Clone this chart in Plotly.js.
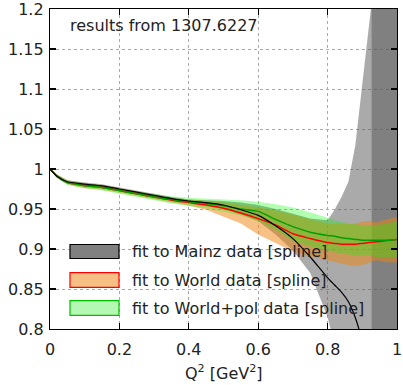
<!DOCTYPE html>
<html>
<head>
<meta charset="utf-8">
<script src="https://cdn.plot.ly/plotly-3.0.1.min.js"></script>
<style>html,body{margin:0;padding:0;background:#fff;}#chart{width:403px;height:385px;}</style>
</head>
<body>
<div id="chart"></div>
<script>
// Q^2 grid [GeV^2]
var q = [0, 0.02, 0.05, 0.075, 0.1, 0.15, 0.2, 0.25, 0.3, 0.35, 0.4, 0.45, 0.5, 0.55, 0.6, 0.65, 0.7, 0.75, 0.8, 0.82, 0.84, 0.86, 0.88, 0.9, 0.92, 0.94, 0.96, 0.98, 1.0];

// fit to Mainz data [spline]
var mainzCentral = [1.0, 0.991, 0.984, 0.9825, 0.981, 0.979, 0.975, 0.971, 0.967, 0.963, 0.960, 0.958, 0.955, 0.949, 0.942, 0.929, 0.913, 0.890, 0.864, 0.855, 0.846, 0.834, 0.814, 0.785, 0.750, 0.710, 0.670, 0.630, 0.590];
var mainzHi = [1.001, 0.993, 0.986, 0.9845, 0.983, 0.981, 0.977, 0.973, 0.969, 0.965, 0.962, 0.961, 0.960, 0.958, 0.955, 0.950, 0.944, 0.938, 0.936, 0.949, 0.965, 0.984, 1.030, 1.099, 1.172, 1.250, 1.330, 1.410, 1.490];
var mainzLo = [0.999, 0.989, 0.982, 0.9805, 0.979, 0.977, 0.973, 0.969, 0.965, 0.961, 0.958, 0.955, 0.950, 0.943, 0.935, 0.918, 0.898, 0.870, 0.815, 0.780, 0.730, 0.680, 0.630, 0.580, 0.530, 0.480, 0.430, 0.380, 0.330];
// region where the Mainz band overflows the frame on both sides
var overflowQ = [0.927, 0.94, 0.96, 0.98, 1.0];
var overflowHi = [1.3, 1.3, 1.3, 1.3, 1.3];
var overflowLo = [0.7, 0.7, 0.7, 0.7, 0.7];

// fit to World data [spline]
var worldCentral = [1.0, 0.991, 0.983, 0.981, 0.979, 0.977, 0.973, 0.969, 0.965, 0.961, 0.958, 0.955, 0.951, 0.945, 0.938, 0.930, 0.919, 0.913, 0.908, 0.907, 0.906, 0.906, 0.906, 0.907, 0.908, 0.909, 0.910, 0.911, 0.912];
var worldHi = [1.001, 0.993, 0.986, 0.984, 0.982, 0.980, 0.976, 0.972, 0.968, 0.964, 0.962, 0.960, 0.958, 0.955, 0.952, 0.948, 0.943, 0.937, 0.932, 0.932, 0.932, 0.931, 0.932, 0.934, 0.935, 0.933, 0.936, 0.938, 0.940];
var worldLo = [0.999, 0.989, 0.981, 0.978, 0.976, 0.974, 0.970, 0.966, 0.962, 0.958, 0.954, 0.949, 0.941, 0.932, 0.918, 0.907, 0.897, 0.891, 0.886, 0.884, 0.882, 0.880, 0.879, 0.880, 0.883, 0.886, 0.884, 0.883, 0.883];

// fit to World+pol data [spline]
var polCentral = [1.0, 0.991, 0.983, 0.981, 0.979, 0.977, 0.973, 0.969, 0.965, 0.962, 0.959, 0.957, 0.954, 0.950, 0.947, 0.937, 0.928, 0.921, 0.917, 0.916, 0.914, 0.913, 0.912, 0.911, 0.911, 0.911, 0.911, 0.911, 0.912];
var polHi = [1.001, 0.993, 0.986, 0.984, 0.982, 0.980, 0.976, 0.972, 0.969, 0.966, 0.964, 0.963, 0.962, 0.961, 0.959, 0.956, 0.952, 0.946, 0.939, 0.936, 0.934, 0.932, 0.931, 0.930, 0.930, 0.930, 0.931, 0.933, 0.935];
var polLo = [0.999, 0.989, 0.980, 0.978, 0.976, 0.973, 0.969, 0.965, 0.961, 0.957, 0.954, 0.951, 0.947, 0.942, 0.935, 0.924, 0.910, 0.903, 0.898, 0.896, 0.894, 0.893, 0.892, 0.892, 0.892, 0.890, 0.889, 0.889, 0.889];

// axis ticks
var xTicks = [0, 0.2, 0.4, 0.6, 0.8, 1];
var xTickText = ['0', '0.2', '0.4', '0.6', '0.8', '1'];
var yTicks = [0.8, 0.85, 0.9, 0.95, 1, 1.05, 1.1, 1.15, 1.2];
var yTickText = ['0.8', '0.85', '0.9', '0.95', '1', '1.05', '1.1', '1.15', '1.2'];

var legendLabels = ['fit to Mainz data [spline]', 'fit to World data [spline]', 'fit to World+pol data [spline]'];
var noteText = 'results from 1307.6227';
var xTitle = 'Q<sup>2</sup> [GeV<sup>2</sup>]';

function band(x, hi, lo, color) {
  return {
    x: x.concat(x.slice().reverse()),
    y: hi.concat(lo.slice().reverse()),
    type: 'scatter', mode: 'lines', fill: 'toself',
    fillcolor: color, line: {width: 0, color: color},
    hoverinfo: 'skip', showlegend: false
  };
}
function line(x, y, color, w) {
  return {x: x, y: y, type: 'scatter', mode: 'lines',
    line: {color: color, width: w, shape: 'spline', smoothing: 0.6},
    hoverinfo: 'skip', showlegend: false};
}

var gray = 'rgba(85,85,85,0.5)';
var data = [
  band(q, mainzHi, mainzLo, gray),
  band(overflowQ, overflowHi, overflowLo, gray),
  band(q, worldHi, worldLo, 'rgba(240,130,10,0.5)'),
  band(q, polHi, polLo, 'rgba(0,255,0,0.3)'),
  line(q, worldCentral, '#ff0000', 1.5),
  line(q, polCentral, '#00a000', 1.5),
  line(q, mainzCentral, '#000000', 1.2)
];

var font = 'DejaVu Sans, sans-serif';
var swatchFill = ['#808080', '#f6c084', '#b4f8b4'];
var swatchLine = ['#000000', '#ff0000', '#00c000'];
var swY = [[0.2203, 0.2641], [0.1303, 0.1759], [0.0428, 0.0884]];
var shapes = [], annotations = [];
for (var i = 0; i < 3; i++) {
  shapes.push({type: 'rect', xref: 'paper', yref: 'paper', x0: 0.0576, x1: 0.1988,
    y0: swY[i][0], y1: swY[i][1], fillcolor: swatchFill[i],
    line: {color: swatchLine[i], width: 1.2}});
  annotations.push({xref: 'paper', yref: 'paper', x: 0.2305, y: (swY[i][0] + swY[i][1]) / 2,
    xanchor: 'left', yanchor: 'middle', showarrow: false, text: legendLabels[i],
    font: {family: font, size: 16, color: '#222'}});
}
annotations.push({xref: 'paper', yref: 'paper', x: 0.052, y: 0.947, xanchor: 'left', yanchor: 'middle',
  showarrow: false, text: noteText, font: {family: font, size: 16, color: '#222'}});
annotations.push({xref: 'paper', yref: 'paper', x: 0.5, y: -0.136, xanchor: 'center', yanchor: 'middle',
  showarrow: false, text: xTitle, font: {family: font, size: 16, color: '#222'}});

var axisCommon = {
  showline: true, linecolor: '#000', linewidth: 1.2, mirror: 'allticks',
  ticks: 'inside', ticklen: 6, tickcolor: '#000', tickwidth: 1.2,
  showgrid: true, gridcolor: '#aaaaaa', griddash: 'dot', gridwidth: 1,
  zeroline: false, tickfont: {family: font, size: 16, color: '#222'},
  tickmode: 'array', ticklabeloverflow: 'allow'
};

var layout = {
  width: 403, height: 385,
  margin: {l: 50, r: 6, t: 9, b: 56},
  paper_bgcolor: '#fff', plot_bgcolor: '#fff',
  xaxis: Object.assign({}, axisCommon, {range: [0, 1], tickvals: xTicks, ticktext: xTickText, ticklabelstandoff: 6}),
  yaxis: Object.assign({}, axisCommon, {range: [0.8, 1.2], tickvals: yTicks, ticktext: yTickText, ticklabelstandoff: 2}),
  shapes: shapes,
  annotations: annotations,
  showlegend: false
};

Plotly.newPlot('chart', data, layout, {displayModeBar: false, staticPlot: true});
</script>
</body>
</html>
